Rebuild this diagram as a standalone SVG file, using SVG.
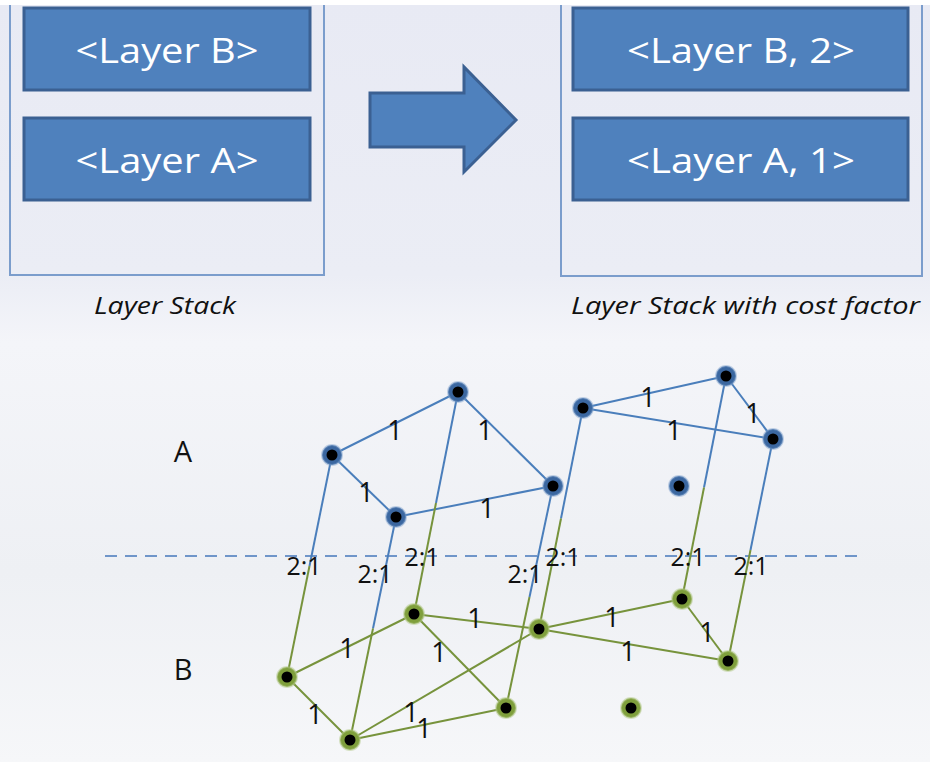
<svg xmlns="http://www.w3.org/2000/svg" width="930" height="762" viewBox="0 0 930 762">
<defs>
<linearGradient id="bg" x1="0" y1="0" x2="0" y2="1">
<stop offset="0" stop-color="#E8EAF4"/>
<stop offset="0.36" stop-color="#EBEDF5"/>
<stop offset="0.45" stop-color="#F4F5F9"/>
<stop offset="0.75" stop-color="#EEF0F4"/>
<stop offset="1" stop-color="#F6F7F9"/>
</linearGradient>
<style>
.frame{fill:none;stroke:#7B9DCC;stroke-width:2}
.box{fill:#4F81BD;stroke:#3B6092;stroke-width:3}
.boxt{font-family:"Open Sans","Liberation Sans",sans-serif;font-size:34px;fill:#FFFFFF;text-anchor:middle}
.cap{font-family:"Open Sans","Liberation Sans",sans-serif;font-style:italic;font-size:24px;fill:#111111}
.lbl{font-family:"Open Sans","Liberation Sans",sans-serif;font-size:27px;fill:#111111;text-anchor:middle}
.rat{font-family:"Open Sans","Liberation Sans",sans-serif;font-size:25px;fill:#111111;text-anchor:middle}
.lay{font-family:"Open Sans","Liberation Sans",sans-serif;font-size:29px;fill:#111111;text-anchor:middle}
.eb{stroke:#4A7EBB;stroke-width:2;fill:none}
.eg{stroke:#77933C;stroke-width:2;fill:none}
.dash{stroke:#6F95C9;stroke-width:2;stroke-dasharray:12 8;fill:none}
.nb{fill:#3B67A0;stroke:#7C9FCD;stroke-width:2;stroke-opacity:0.45}
.ng{fill:#7F9F3C;stroke:#B3C98A;stroke-width:2;stroke-opacity:0.5}
.nc{fill:#000000}
</style>
</defs>
<rect x="0" y="0" width="930" height="762" fill="url(#bg)"/>
<rect x="0" y="0" width="930" height="5" fill="#FFFFFF"/>

<g id="left-stack">
<path class="frame" d="M10,5 V275 H324 V5"/>
<g id="layer-b">
<rect class="box" x="24" y="8" width="286" height="82"/>
<text class="boxt" x="167" y="63" textLength="183" lengthAdjust="spacingAndGlyphs">&lt;Layer B&gt;</text>
</g>
<g id="layer-a">
<rect class="box" x="24" y="118" width="286" height="82"/>
<text class="boxt" x="167" y="173" textLength="183" lengthAdjust="spacingAndGlyphs">&lt;Layer A&gt;</text>
</g>
<text class="cap" x="94" y="314" textLength="142" lengthAdjust="spacingAndGlyphs">Layer Stack</text>
</g>

<g id="arrow">
<polygon points="370,93 464,93 464,67 516,120 464,172 464,147 370,147" fill="#4F81BD" stroke="#3B6092" stroke-width="3" stroke-linejoin="miter"/>
</g>

<g id="right-stack">
<path class="frame" d="M561,5 V276 H922 V5"/>
<g id="layer-b2">
<rect class="box" x="573" y="8" width="335" height="82"/>
<text class="boxt" x="741" y="63" textLength="228" lengthAdjust="spacingAndGlyphs">&lt;Layer B, 2&gt;</text>
</g>
<g id="layer-a1">
<rect class="box" x="573" y="118" width="335" height="82"/>
<text class="boxt" x="741" y="173" textLength="228" lengthAdjust="spacingAndGlyphs">&lt;Layer A, 1&gt;</text>
</g>
<text class="cap" x="571" y="314" textLength="349" lengthAdjust="spacingAndGlyphs">Layer Stack with cost factor</text>
</g>

<text class="lay" x="183" y="462">A</text>
<text class="lay" x="183" y="680">B</text>

<line class="dash" x1="105" y1="556" x2="860" y2="556"/>

<g id="connectors">
<line class="eb" x1="332" y1="455" x2="458" y2="392"/>
<line class="eb" x1="458" y1="392" x2="553" y2="486"/>
<line class="eb" x1="332" y1="455" x2="396" y2="517"/>
<line class="eb" x1="396" y1="517" x2="553" y2="486"/>
<line class="eb" x1="583" y1="408" x2="726" y2="376"/>
<line class="eb" x1="583" y1="408" x2="773" y2="439"/>
<line class="eb" x1="726" y1="376" x2="773" y2="439"/>
<line class="eg" x1="287" y1="677" x2="414" y2="614"/>
<line class="eg" x1="287" y1="677" x2="350" y2="740"/>
<line class="eg" x1="414" y1="614" x2="539" y2="629"/>
<line class="eg" x1="414" y1="614" x2="506" y2="708"/>
<line class="eg" x1="350" y1="740" x2="539" y2="629"/>
<line class="eg" x1="350" y1="740" x2="506" y2="708"/>
<line class="eg" x1="539" y1="629" x2="682" y2="599"/>
<line class="eg" x1="539" y1="629" x2="728" y2="661"/>
<line class="eg" x1="682" y1="599" x2="728" y2="661"/>
<line class="eb" x1="332" y1="455" x2="309.5" y2="566"/>
<line class="eg" x1="309.5" y1="566" x2="287" y2="677"/>
<line class="eb" x1="396" y1="517" x2="373" y2="628.5"/>
<line class="eg" x1="373" y1="628.5" x2="350" y2="740"/>
<line class="eb" x1="458" y1="392" x2="436" y2="503"/>
<line class="eg" x1="436" y1="503" x2="414" y2="614"/>
<line class="eb" x1="553" y1="486" x2="529.5" y2="597"/>
<line class="eg" x1="529.5" y1="597" x2="506" y2="708"/>
<line class="eb" x1="583" y1="408" x2="561" y2="518.5"/>
<line class="eg" x1="561" y1="518.5" x2="539" y2="629"/>
<line class="eb" x1="726" y1="376" x2="704" y2="487.5"/>
<line class="eg" x1="704" y1="487.5" x2="682" y2="599"/>
<line class="eb" x1="773" y1="439" x2="750.5" y2="550"/>
<line class="eg" x1="750.5" y1="550" x2="728" y2="661"/>
</g>

<g id="edge-labels">
<text class="lbl" x="395" y="440">1</text>
<text class="lbl" x="485" y="440">1</text>
<text class="lbl" x="366" y="502">1</text>
<text class="lbl" x="487" y="518">1</text>
<text class="lbl" x="648" y="407">1</text>
<text class="lbl" x="674" y="440">1</text>
<text class="lbl" x="753" y="423">1</text>
<text class="lbl" x="475" y="628">1</text>
<text class="lbl" x="347" y="658">1</text>
<text class="lbl" x="439" y="662">1</text>
<text class="lbl" x="315" y="724">1</text>
<text class="lbl" x="411" y="722">1</text>
<text class="lbl" x="424" y="738">1</text>
<text class="lbl" x="612" y="627">1</text>
<text class="lbl" x="628" y="661">1</text>
<text class="lbl" x="707" y="642">1</text>
<text class="rat" x="304" y="575">2:1</text>
<text class="rat" x="375" y="583">2:1</text>
<text class="rat" x="422" y="566">2:1</text>
<text class="rat" x="525" y="583">2:1</text>
<text class="rat" x="563" y="566">2:1</text>
<text class="rat" x="688" y="566">2:1</text>
<text class="rat" x="751" y="575">2:1</text>
</g>

<g id="a1"><circle class="nb" cx="458" cy="392" r="10"/><circle class="nc" cx="458" cy="392" r="5.5"/></g>
<g id="a2"><circle class="nb" cx="332" cy="455" r="10"/><circle class="nc" cx="332" cy="455" r="5.5"/></g>
<g id="a3"><circle class="nb" cx="396" cy="517" r="10"/><circle class="nc" cx="396" cy="517" r="5.5"/></g>
<g id="a4"><circle class="nb" cx="553" cy="486" r="10"/><circle class="nc" cx="553" cy="486" r="5.5"/></g>
<g id="a5"><circle class="nb" cx="583" cy="408" r="10"/><circle class="nc" cx="583" cy="408" r="5.5"/></g>
<g id="a6"><circle class="nb" cx="726" cy="376" r="10"/><circle class="nc" cx="726" cy="376" r="5.5"/></g>
<g id="a7"><circle class="nb" cx="773" cy="439" r="10"/><circle class="nc" cx="773" cy="439" r="5.5"/></g>
<g id="a8"><circle class="nb" cx="679" cy="486" r="10"/><circle class="nc" cx="679" cy="486" r="5.5"/></g>

<g id="b1"><circle class="ng" cx="287" cy="677" r="10"/><circle class="nc" cx="287" cy="677" r="5.5"/></g>
<g id="b2"><circle class="ng" cx="414" cy="614" r="10"/><circle class="nc" cx="414" cy="614" r="5.5"/></g>
<g id="b3"><circle class="ng" cx="539" cy="629" r="10"/><circle class="nc" cx="539" cy="629" r="5.5"/></g>
<g id="b4"><circle class="ng" cx="350" cy="740" r="10"/><circle class="nc" cx="350" cy="740" r="5.5"/></g>
<g id="b5"><circle class="ng" cx="506" cy="708" r="10"/><circle class="nc" cx="506" cy="708" r="5.5"/></g>
<g id="b6"><circle class="ng" cx="631" cy="708" r="10"/><circle class="nc" cx="631" cy="708" r="5.5"/></g>
<g id="b7"><circle class="ng" cx="682" cy="599" r="10"/><circle class="nc" cx="682" cy="599" r="5.5"/></g>
<g id="b8"><circle class="ng" cx="728" cy="661" r="10"/><circle class="nc" cx="728" cy="661" r="5.5"/></g>
</svg>
